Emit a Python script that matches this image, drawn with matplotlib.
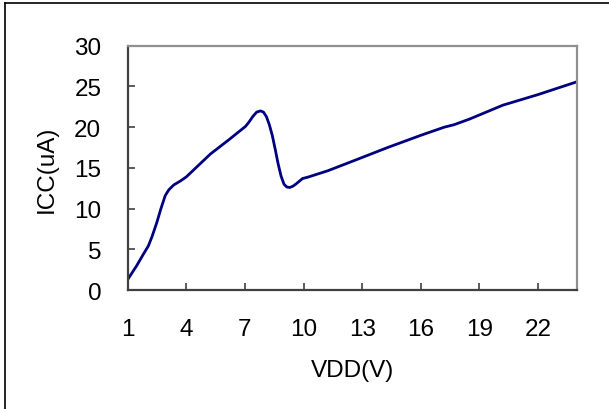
import matplotlib.pyplot as plt
from matplotlib.lines import Line2D

plt.rcParams['font.family'] = ['Liberation Sans', 'DejaVu Sans']

# ICC vs VDD curve
vdd = [1.0, 1.46, 1.8, 2.06, 2.25, 2.49, 2.7, 2.92, 3.1, 3.35, 3.7, 4.0,
       5.23, 6.2, 7.03, 7.2, 7.4, 7.6, 7.8, 7.95, 8.1, 8.25, 8.4, 8.55,
       8.7, 8.85, 9.0, 9.15, 9.3, 9.45, 9.6, 9.8, 9.95, 10.2, 11.24, 12.43,
       14.3, 16.0, 17.2, 17.7, 18.5, 20.2, 22.0, 23.9]
icc = [1.3, 3.0, 4.4, 5.44, 6.6, 8.3, 10.0, 11.6, 12.3, 12.9, 13.4, 13.9,
       16.7, 18.5, 20.1, 20.6, 21.3, 21.85, 22.0, 21.85, 21.3, 20.3, 19.0,
       17.3, 15.5, 14.0, 13.0, 12.65, 12.6, 12.75, 13.0, 13.4, 13.7, 13.85,
       14.65, 15.75, 17.5, 19.0, 20.0, 20.3, 21.0, 22.7, 24.0, 25.5]

xticks = [1, 4, 7, 10, 13, 16, 19, 22]
yticks = [0, 5, 10, 15, 20, 25, 30]

fig = plt.figure(figsize=(6.09, 4.10), dpi=100)
ax = fig.add_axes([0.2097, 0.290, 0.7378, 0.596])

ax.plot(vdd, icc, color='#000080', lw=2.0, solid_joinstyle='round')

ax.set_xlim(1, 24)
ax.set_ylim(0, 30)
ax.set_xticks(xticks)
ax.set_yticks(yticks)
ax.tick_params(axis='both', direction='in', length=5, width=1.2,
               color='#404040', labelsize=17.5)
ax.tick_params(axis='x', pad=20)
ax.tick_params(axis='y', pad=19)

for s in ['left', 'bottom']:
    ax.spines[s].set_color('#404040')
    ax.spines[s].set_linewidth(1.6)
for s in ['top', 'right']:
    ax.spines[s].set_color('#909090')
    ax.spines[s].set_linewidth(1.6)

ax.set_xlabel('VDD(V)', fontsize=17.5, labelpad=14)
ax.set_ylabel('ICC(uA)', fontsize=17.5, labelpad=12)

# outer chart border (left and top only visible)
fig.add_artist(Line2D([4.5 / 609, 4.5 / 609], [0, 1 - 4 / 410],
                      transform=fig.transFigure, color='black', lw=1.2))
fig.add_artist(Line2D([4.5 / 609, 1], [1 - 4 / 410, 1 - 4 / 410],
                      transform=fig.transFigure, color='black', lw=1.2))

fig.savefig('out.png', dpi=100)
